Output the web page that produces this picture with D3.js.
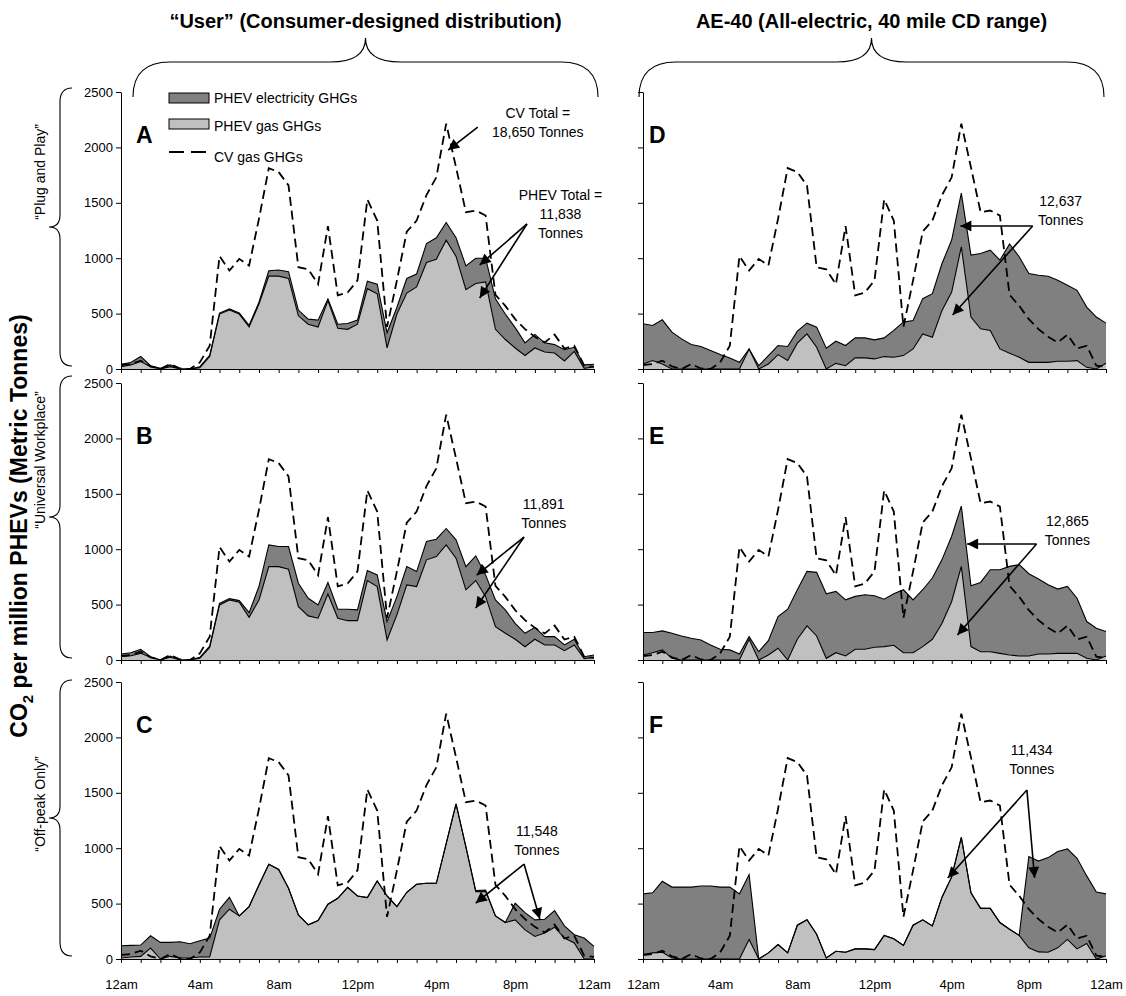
<!DOCTYPE html>
<html>
<head>
<meta charset="utf-8">
<script src="https://cdn.jsdelivr.net/npm/d3@7"></script>
<style>
  body { margin: 0; background: #fff; }
  svg { font-family: "Liberation Sans", Arial, sans-serif; }
</style>
</head>
<body>
<svg id="chart" width="1126" height="996"></svg>
<script>
/* half-hourly values, 12am .. 12am (49 points), tonnes per hour */

// CV gas GHGs (same baseline in every panel)
const cvGas = [36,45,75,24,0,45,5,0,60,210, 1020,888,994,934,1355,1813,1777,1657,919,900,
  765,1290,665,690,800,1530,1340,380,800,1240, 1340,1570,1730,2215,1820,1415,1430,1385,670,570,
  450,360,290,240,310,185,210,30,20];

// User - Plug and Play
const userPlugGas = [21,37,67,21,0,21,0,0,12,113, 496,532,496,379,587,838,838,817,480,404,
  379,618,367,358,404,725,679,190,496,685, 741,961,991,1163,1016,716,771,786,358,266,
  190,122,190,153,144,73,159,6,21];
const userPlugElec = [22,21,46,9,6,16,0,0,9,9, 9,10,9,16,16,49,55,61,52,46,
  62,15,37,52,37,68,86,137,61,132, 116,171,193,159,168,214,229,214,275,230,
  183,114,122,83,76,101,37,31,22];

// User - Universal Workplace
const userWorkGas = [30,39,60,24,0,24,0,0,15,114, 497,542,521,385,542,843,843,819,482,398,
  377,596,377,355,355,717,663,181,407,678, 663,904,934,1039,919,633,717,572,301,241,
  187,120,187,136,136,84,136,12,24];
const userWorkElec = [24,27,36,6,0,12,0,0,9,12, 15,12,15,43,121,196,181,205,211,159,
  120,103,81,103,97,90,105,165,165,165, 135,165,156,148,165,210,223,196,241,211,
  144,121,108,75,75,52,51,18,21];

// User - Off-peak Only
const userOffGas = [9,18,24,99,0,24,9,9,18,18, 353,449,389,473,668,856,808,638,398,308,
  347,494,548,647,569,554,704,569,473,602, 674,683,683,1042,1401,1012,608,608,389,329,
  353,263,204,234,287,189,144,0,0];
const userOffElec = [111,105,102,111,150,126,147,129,147,171, 96,108,0,0,0,0,0,0,0,0,
  0,0,0,0,0,0,0,0,0,0, 0,0,0,0,0,0,9,15,0,0,
  150,156,149,125,150,110,75,189,114];

// AE-40 - Plug and Play
const ae40PlugGas = [45,76,45,0,0,0,0,0,0,0, 0,181,0,45,130,76,233,317,196,0,
  51,30,100,100,91,112,106,121,181,317, 287,529,695,1103,469,363,348,181,142,106,
  60,60,60,70,70,76,15,0,51];
const ae40PlugElec = [363,317,399,333,272,221,203,166,130,100, 60,0,30,76,82,127,109,97,182,187,
  200,182,181,181,172,169,242,302,257,318, 393,423,469,484,559,680,725,801,986,907,
  802,786,777,731,686,634,544,469,363];

// AE-40 - Universal Workplace
const ae40WorkGas = [45,66,91,15,0,0,0,0,0,0, 0,187,0,45,106,0,187,308,217,15,
  66,36,97,97,115,121,133,66,66,121, 187,332,528,845,121,75,75,60,45,36,
  36,54,54,60,60,60,15,0,36];
const ae40WorkElec = [203,182,172,227,217,196,181,136,97,91, 54,24,75,130,286,459,447,492,574,583,
  553,507,477,492,465,428,465,568,477,513, 553,574,589,544,549,625,740,755,800,824,
  743,677,625,580,604,498,332,287,221];

// AE-40 - Off-peak Only
const ae40OffGas = [40,55,61,9,0,0,0,0,0,0, 0,177,0,55,131,55,305,354,223,9,
  70,61,91,91,85,213,183,122,305,354, 299,558,741,1098,598,457,457,329,268,213,
  101,64,61,101,177,91,140,0,30];
const ae40OffElec = [548,543,640,640,649,649,659,659,649,649, 588,585,0,0,0,0,0,0,0,0,
  0,0,0,0,0,0,0,0,0,0, 0,0,0,0,0,0,0,0,0,0,
  823,820,854,869,817,818,610,604,558];

const yTicks = [0, 500, 1000, 1500, 2000, 2500];
const timeLabels = ["12am", "4am", "8am", "12pm", "4pm", "8pm", "12am"];
const legendLabels = ["PHEV electricity GHGs", "PHEV gas GHGs", "CV gas GHGs"];
const rowLabels = ["\u201cPlug and Play\u201d", "\u201cUniversal Workplace\u201d", "\u201cOff-peak Only\u201d"];
const colTitles = ["\u201cUser\u201d (Consumer-designed distribution)", "AE-40 (All-electric, 40 mile CD range)"];

const DARK = "#808080", LIGHT = "#c0c0c0";

// layout
const colX = [[121, 594], [643, 1106]];
const rowY = [[369, 92], [660, 383], [959, 682]];

// notes: text lines, label position [slot, value], arrows from -> to
const panels = [
  {letter: "A", col: 0, row: 0, gas: userPlugGas, elec: userPlugElec, letterY: 2040,
   notes: [
     {lines: ["CV Total =", "18,650 Tonnes"], at: [42.3, 2265], from: [36.2, 2184], to: [[33.2, 1976]]},
     {lines: ["PHEV Total =", "11,838", "Tonnes"], at: [44.6, 1525], from: [41.2, 1309], to: [[36.4, 939], [36.4, 641]]}
   ]},
  {letter: "B", col: 0, row: 1, gas: userWorkGas, elec: userWorkElec, letterY: 1950,
   notes: [{lines: ["11,891", "Tonnes"], at: [42.9, 1363], from: [40.9, 1110], to: [[36.1, 767], [36.0, 469]]}]},
  {letter: "C", col: 0, row: 2, gas: userOffGas, elec: userOffElec, letterY: 2040,
   notes: [{lines: ["11,548", "Tonnes"], at: [42.2, 1110], from: [40.9, 857], to: [[36.0, 505], [42.5, 361]]}]},
  {letter: "D", col: 1, row: 0, gas: ae40PlugGas, elec: ae40PlugElec, letterY: 2040,
   notes: [{lines: ["12,637", "Tonnes"], at: [43.3, 1471], from: [40.4, 1291], to: [[32.9, 1291], [32.1, 487]]}]},
  {letter: "E", col: 1, row: 1, gas: ae40WorkGas, elec: ae40WorkElec, letterY: 1950,
   notes: [{lines: ["12,865", "Tonnes"], at: [44.0, 1209], from: [40.8, 1047], to: [[33.6, 1047], [32.6, 226]]}]},
  {letter: "F", col: 1, row: 2, gas: ae40OffGas, elec: ae40OffElec, letterY: 2040,
   notes: [{lines: ["11,434", "Tonnes"], at: [40.3, 1841], from: [39.8, 1525], to: [[31.6, 731], [40.6, 731]]}]}
];

const svg = d3.select("#chart");

svg.append("defs").append("marker")
  .attr("id", "arrow")
  .attr("viewBox", "0 0 10 10")
  .attr("refX", 10).attr("refY", 5)
  .attr("markerWidth", 13).attr("markerHeight", 11)
  .attr("markerUnits", "userSpaceOnUse")
  .attr("orient", "auto")
  .append("path").attr("d", "M0,0L10,5L0,10Z").attr("fill", "#000");

panels.forEach(function(p) {
  const x = d3.scaleLinear().domain([0, 48]).range(colX[p.col]);
  const y = d3.scaleLinear().domain([0, 2500]).range(rowY[p.row]);
  const total = p.gas.map((g, i) => g + p.elec[i]);
  const g = svg.append("g");

  // electricity band stacked on gas
  g.append("path")
    .attr("d", d3.area().x((d, i) => x(i)).y0((d, i) => y(p.gas[i])).y1(d => y(d))(total))
    .attr("fill", DARK);
  g.append("path")
    .attr("d", d3.area().x((d, i) => x(i)).y0(y(0)).y1(d => y(d))(p.gas))
    .attr("fill", LIGHT);

  const line = d3.line().x((d, i) => x(i)).y(d => y(d));
  g.append("path").attr("d", line(total)).attr("fill", "none").attr("stroke", "#000").attr("stroke-width", 1.1);
  g.append("path").attr("d", line(p.gas)).attr("fill", "none").attr("stroke", "#000").attr("stroke-width", 1.1);

  g.append("path").attr("d", line(cvGas))
    .attr("fill", "none").attr("stroke", "#000")
    .attr("stroke-width", 1.8).attr("stroke-dasharray", "9,5");

  // axes
  const xAxis = d3.axisBottom(x)
    .tickValues(d3.range(0, 49, 2))
    .tickSize(4).tickSizeOuter(0).tickPadding(17)
    .tickFormat(d => (p.row === 2 && d % 8 === 0) ? timeLabels[d / 8] : "");
  const gx = g.append("g").attr("transform", `translate(0,${y(0)})`).call(xAxis);

  const yAxis = d3.axisLeft(y)
    .tickValues(yTicks)
    .tickSize(5).tickSizeOuter(0).tickPadding(3)
    .tickFormat(p.col === 0 ? d3.format("d") : "");
  const gy = g.append("g").attr("transform", `translate(${x(0)},0)`).call(yAxis);

  [gx, gy].forEach(a => {
    a.selectAll("text").attr("font-size", 13).attr("font-family", "Liberation Sans, Arial, sans-serif").attr("fill", "#000");
    a.selectAll("line,path").attr("stroke", "#000");
  });

  // panel letter
  g.append("text")
    .attr("x", x(0) + (p.col === 0 ? 15 : 6))
    .attr("y", y(p.letterY))
    .attr("font-size", 23).attr("font-weight", "bold")
    .text(p.letter);

  // notes and arrows
  p.notes.forEach(function(n) {
    const t = g.append("text")
      .attr("text-anchor", "middle")
      .attr("font-size", 14)
      .attr("x", x(n.at[0])).attr("y", y(n.at[1]));
    n.lines.forEach((s, k) => {
      t.append("tspan").attr("x", x(n.at[0])).attr("dy", k === 0 ? 0 : 19).text(s);
    });
    n.to.forEach(function(tp) {
      g.append("line")
        .attr("x1", x(n.from[0])).attr("y1", y(n.from[1]))
        .attr("x2", x(tp[0])).attr("y2", y(tp[1]))
        .attr("stroke", "#000").attr("stroke-width", 1.6)
        .attr("marker-end", "url(#arrow)");
    });
  });

  // legend in panel A
  if (p.letter === "A") {
    const lx = x(0) + 48, ly = y(2500);
    const lg = g.append("g").attr("transform", `translate(${lx},${ly})`);
    [DARK, LIGHT].forEach((c, k) => {
      lg.append("rect").attr("x", 0).attr("y", 1 + k * 26).attr("width", 40).attr("height", 10)
        .attr("fill", c).attr("stroke", "#000").attr("stroke-width", 1);
    });
    lg.append("line").attr("x1", 0).attr("x2", 40).attr("y1", 60).attr("y2", 60)
      .attr("stroke", "#000").attr("stroke-width", 1.8).attr("stroke-dasharray", "15,7");
    legendLabels.forEach((s, k) => {
      lg.append("text").attr("x", 45).attr("y", 11 + k * 28 + (k === 2 ? 3 : 0))
        .attr("font-size", 14).text(s);
    });
  }
});

// curly brace, horizontal (tip up) or vertical (tip left)
function hBrace(xa, xb, yEnd, yFlat, yTip, r, r2) {
  const xm = (xa + xb) / 2;
  return `M${xa},${yEnd}Q${xa},${yFlat} ${xa + r},${yFlat}L${xm - r2},${yFlat}Q${xm},${yFlat} ${xm},${yTip}` +
         `M${xb},${yEnd}Q${xb},${yFlat} ${xb - r},${yFlat}L${xm + r2},${yFlat}Q${xm},${yFlat} ${xm},${yTip}`;
}
function vBrace(ya, yb, xEnd, xFlat, xTip, r, r2) {
  const ym = (ya + yb) / 2;
  return `M${xEnd},${ya}Q${xFlat},${ya} ${xFlat},${ya + r}L${xFlat},${ym - r2}Q${xFlat},${ym} ${xTip},${ym}` +
         `M${xEnd},${yb}Q${xFlat},${yb} ${xFlat},${yb - r}L${xFlat},${ym + r2}Q${xFlat},${ym} ${xTip},${ym}`;
}

const braceStyle = s => s.attr("fill", "none").attr("stroke", "#000").attr("stroke-width", 1.1);

const topBraces = [[133, 598], [639, 1104]];
topBraces.forEach((b, k) => {
  svg.append("path").attr("d", hBrace(b[0], b[1], 97, 62, 38, 37, 35)).call(braceStyle);
  // column title centred over the brace tip
  svg.append("text").attr("x", (b[0] + b[1]) / 2).attr("y", 28)
    .attr("text-anchor", "middle").attr("font-size", 20).attr("font-weight", "bold")
    .text(colTitles[k]);
});

// row braces and labels
const braceRows = [[88, 366], [376, 658], [680, 956]];
const rowLabelY = [172, 460, 804];
braceRows.forEach((b, k) => {
  svg.append("path").attr("d", vBrace(b[0], b[1], 72, 60, 49, 14, 12)).call(braceStyle);
  svg.append("text")
    .attr("transform", `translate(45,${rowLabelY[k]}) rotate(-90)`)
    .attr("text-anchor", "middle").attr("font-size", 14)
    .text(rowLabels[k]);
});

// y axis title
const yt = svg.append("text")
  .attr("transform", "translate(27,526) rotate(-90)")
  .attr("text-anchor", "middle").attr("font-size", 23).attr("font-weight", "bold");
yt.append("tspan").text("CO");
yt.append("tspan").attr("font-size", 15).attr("dy", 6).text("2");
yt.append("tspan").attr("dy", -6).text(" per million PHEVs (Metric Tonnes)");
</script>
</body>
</html>
